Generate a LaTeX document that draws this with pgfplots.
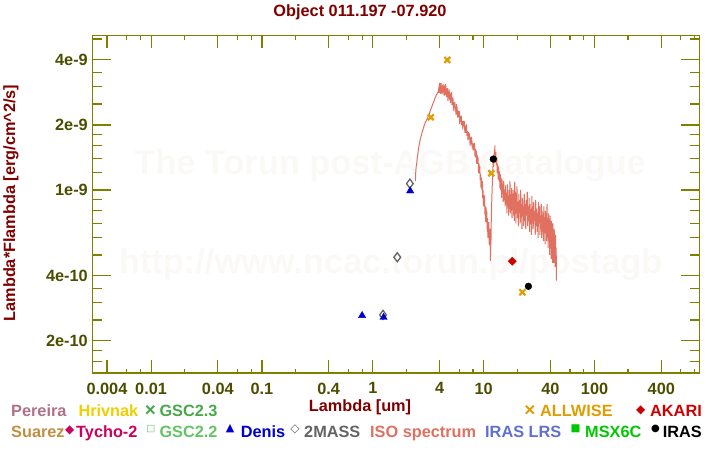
\documentclass[border=0pt]{standalone}
\usepackage{pgfplots}
\pgfplotsset{compat=1.18}
\usepackage{fontspec}
\setmainfont{Liberation Sans}
\newfontfamily\symfont{DejaVu Sans}
\definecolor{axc}{RGB}{128,128,0}
\definecolor{tlc}{RGB}{77,77,0}
\definecolor{ttl}{RGB}{128,0,0}
\definecolor{wm}{RGB}{250,249,246}
\definecolor{cPer}{RGB}{176,112,136}
\definecolor{cHri}{RGB}{236,208,0}
\definecolor{cGtt}{RGB}{72,168,72}
\definecolor{cSua}{RGB}{192,144,64}
\definecolor{cTyc}{RGB}{204,0,96}
\definecolor{cGtw}{RGB}{100,196,100}
\definecolor{cDen}{RGB}{0,0,204}
\definecolor{cMas}{RGB}{100,100,100}
\definecolor{cIso}{RGB}{224,112,96}
\definecolor{cLrs}{RGB}{96,112,208}
\definecolor{cMsx}{RGB}{0,200,0}
\definecolor{cAll}{RGB}{224,156,0}
\definecolor{cAka}{RGB}{208,0,0}
\newcommand\F{\fontsize{16.3bp}{19bp}\selectfont\bfseries}
\newcommand\Sy[1]{\fontsize{#1}{#1}\symfont}
\begin{document}
\begin{tikzpicture}
\path[use as bounding box] (0bp,0bp) rectangle (720bp,450bp);
% watermark
\node[anchor=base,inner sep=0,text=wm,font=\fontsize{34.4bp}{40bp}\selectfont\bfseries] at (390bp,275bp) {The Torun post-AGB Catalogue};
\node[anchor=base,inner sep=0,text=wm,font=\fontsize{34.4bp}{40bp}\selectfont\bfseries] at (390.7bp,176.5bp) {http://www.ncac.torun.pl/postagb};
% x ticks axis
\begin{axis}[at={(92.3bp,77bp)},anchor=south west,scale only axis,
  width=607bp,height=337.5bp,
  xmode=log,ymode=log,xmin=0.00295,xmax=880,ymin=1.42e-10,ymax=5.19e-9,
  axis line style={draw=none},
  ytick=\empty,
  xtick={0.004,0.01,0.04,0.1,0.4,1,4,10,40,100,400},
  xticklabels={0.004,0.01,0.04,0.1,0.4,1,4,10,40,100,400},
  minor xtick={0.006,0.008,0.02,0.06,0.08,0.2,0.6,0.8,2,6,8,20,60,80,200,600,800},
  tick align=inside,xtick pos=both,
  major tick length=12.7bp,minor tick length=4.3bp,
  every tick/.style={draw=axc,line width=1.1bp},
  xticklabel style={font=\F,text=tlc,anchor=north,inner sep=0pt,yshift=-9.5bp},
]
\end{axis}
% main axis
\begin{axis}[at={(92.3bp,77bp)},anchor=south west,scale only axis,
  width=607bp,height=337.5bp,
  xmode=log,ymode=log,xmin=0.00295,xmax=880,ymin=1.42e-10,ymax=5.19e-9,
  axis line style={draw=axc,line width=1.3bp},
  xtick=\empty,
  ytick={2e-10,4e-10,1e-9,2e-9,4e-9},
  yticklabels={2e-10,4e-10,1e-9,2e-9,4e-9},
  minor ytick={1.6e-10,1.8e-10,2.5e-10,3e-10,3.5e-10,5e-10,6e-10,7e-10,8e-10,9e-10,1.2e-9,1.4e-9,1.6e-9,1.8e-9,2.5e-9,3e-9,3.5e-9,5e-9},
  tick align=inside,ytick pos=both,
  major tick length=18.5bp,minor tick length=9.3bp,
  every tick/.style={draw=axc,line width=1.1bp},
  yticklabel style={font=\F,text=tlc,anchor=east,inner sep=0pt,xshift=-4.3bp},
]
% ISO spectrum
\addplot[color=cIso,line width=1bp,mark=none] table {
x y
2.42 1.10e-9
2.44 1.22e-9
2.46 1.28e-9
2.49 1.33e-9
2.52 1.42e-9
2.55 1.47e-9
2.58 1.55e-9
2.61 1.60e-9
2.64 1.66e-9
2.67 1.70e-9
2.71 1.76e-9
2.75 1.80e-9
2.79 1.86e-9
2.83 1.90e-9
2.87 1.95e-9
2.92 2.00e-9
2.97 2.05e-9
3.02 2.08e-9
3.07 2.12e-9
3.12 2.16e-9
3.17 2.20e-9
3.22 2.24e-9
3.27 2.30e-9
3.33 2.36e-9
3.39 2.42e-9
3.45 2.47e-9
3.51 2.54e-9
3.57 2.58e-9
3.63 2.66e-9
3.69 2.70e-9
3.75 2.76e-9
3.82 2.80e-9
3.88 2.84e-9
3.94 2.97e-9
3.97 2.82e-9
4.00 3.13e-9
4.03 2.82e-9
4.06 2.98e-9
4.09 2.79e-9
4.12 3.13e-9
4.15 2.95e-9
4.18 3.04e-9
4.21 2.77e-9
4.24 2.98e-9
4.27 2.89e-9
4.30 3.10e-9
4.33 2.82e-9
4.36 3.00e-9
4.39 2.72e-9
4.42 3.05e-9
4.45 2.89e-9
4.48 3.00e-9
4.51 2.76e-9
4.54 3.09e-9
4.57 2.79e-9
4.60 2.90e-9
4.63 2.69e-9
4.66 2.95e-9
4.69 2.77e-9
4.72 2.96e-9
4.76 2.58e-9
4.80 2.87e-9
4.84 2.69e-9
4.88 2.92e-9
4.92 2.62e-9
4.96 2.76e-9
5.00 2.53e-9
5.04 2.80e-9
5.08 2.60e-9
5.12 2.84e-9
5.16 2.48e-9
5.20 2.63e-9
5.24 2.48e-9
5.28 2.68e-9
5.33 2.33e-9
5.38 2.55e-9
5.43 2.41e-9
5.48 2.55e-9
5.53 2.31e-9
5.58 2.44e-9
5.63 2.22e-9
5.68 2.50e-9
5.73 2.25e-9
5.78 2.32e-9
5.84 2.16e-9
5.90 2.33e-9
5.96 2.18e-9
6.02 2.32e-9
6.08 2.02e-9
6.14 2.20e-9
6.20 2.06e-9
6.27 2.21e-9
6.34 1.99e-9
6.41 2.09e-9
6.48 1.91e-9
6.55 2.09e-9
6.62 1.97e-9
6.69 2.08e-9
6.76 1.84e-9
6.83 1.98e-9
6.90 1.84e-9
6.98 2.01e-9
7.06 1.78e-9
7.14 1.87e-9
7.22 1.70e-9
7.30 1.85e-9
7.38 1.72e-9
7.46 1.83e-9
7.54 1.60e-9
7.62 1.75e-9
7.70 1.63e-9
7.78 1.76e-9
7.86 1.57e-9
7.94 1.65e-9
8.02 1.52e-9
8.10 1.64e-9
8.18 1.53e-9
8.26 1.65e-9
8.34 1.43e-9
8.42 1.55e-9
8.50 1.41e-9
8.58 1.52e-9
8.66 1.32e-9
8.74 1.45e-9
8.82 1.32e-9
8.90 1.41e-9
8.98 1.20e-9
9.06 1.33e-9
9.14 1.19e-9
9.22 1.29e-9
9.30 1.11e-9
9.38 1.18e-9
9.46 1.02e-9
9.54 1.14e-9
9.62 1.00e-9
9.70 1.10e-9
9.78 0.92e-9
9.86 1.00e-9
9.94 0.84e-9
10.02 0.95e-9
10.10 0.84e-9
10.18 0.94e-9
10.26 0.77e-9
10.34 0.84e-9
10.42 0.71e-9
10.50 0.83e-9
10.58 0.71e-9
10.66 0.80e-9
10.74 0.65e-9
10.82 0.74e-9
10.90 0.60e-9
10.98 0.71e-9
11.06 0.61e-9
11.14 0.71e-9
11.22 0.56e-9
11.30 0.65e-9
11.38 0.55e-9
11.45 0.66e-9
11.50 0.47e-9
11.56 0.60e-9
11.62 0.56e-9
11.70 0.72e-9
11.8 0.86e-9
11.9 1.00e-9
12.0 1.12e-9
12.1 1.26e-9
12.2 1.36e-9
12.3 1.28e-9
12.4 1.48e-9
12.5 1.36e-9
12.6 1.61e-9
12.7 1.34e-9
12.85 1.50e-9
13.0 1.30e-9
13.12 1.42e-9
13.25 1.20e-9
13.38 1.31e-9
13.5 1.12e-9
13.62 1.28e-9
13.75 1.10e-9
13.88 1.22e-9
14.0 1.02e-9
14.12 1.18e-9
14.25 1.00e-9
14.38 1.14e-9
14.5 0.92e-9
14.62 1.12e-9
14.75 0.96e-9
14.88 1.06e-9
15.0 0.88e-9
15.15 1.10e-9
15.3 0.90e-9
15.45 1.00e-9
15.6 0.84e-9
15.75 1.05e-9
15.9 0.86e-9
16.05 0.96e-9
16.2 0.78e-9
16.35 1.06e-9
16.5 0.84e-9
16.65 0.94e-9
16.8 0.76e-9
16.95 1.00e-9
17.1 0.82e-9
17.25 1.10e-9
17.4 0.78e-9
17.55 0.92e-9
17.7 0.80e-9
17.85 1.02e-9
18.0 0.74e-9
18.15 0.96e-9
18.3 0.84e-9
18.45 1.00e-9
18.6 0.76e-9
18.75 0.90e-9
18.9 0.72e-9
19.05 1.09e-9
19.2 0.80e-9
19.35 0.98e-9
19.5 0.70e-9
19.65 0.94e-9
19.8 0.78e-9
19.95 1.04e-9
20.15 0.74e-9
20.35 0.88e-9
20.55 0.68e-9
20.75 0.96e-9
20.95 0.78e-9
21.15 0.90e-9
21.35 0.70e-9
21.55 1.00e-9
21.75 0.74e-9
21.95 0.86e-9
22.15 0.66e-9
22.35 0.92e-9
22.55 0.76e-9
22.75 0.84e-9
22.95 0.68e-9
23.2 0.96e-9
23.45 0.72e-9
23.7 0.86e-9
23.95 0.66e-9
24.2 0.90e-9
24.45 0.76e-9
24.7 0.98e-9
24.95 0.68e-9
25.2 0.84e-9
25.45 0.72e-9
25.7 0.92e-9
25.95 0.64e-9
26.2 0.86e-9
26.45 0.74e-9
26.7 0.80e-9
26.95 0.62e-9
27.2 0.94e-9
27.45 0.70e-9
27.7 0.84e-9
27.95 0.66e-9
28.25 0.88e-9
28.55 0.72e-9
28.85 0.80e-9
29.15 0.62e-9
29.45 0.90e-9
29.75 0.68e-9
30.05 0.82e-9
30.35 0.64e-9
30.65 0.78e-9
30.95 0.60e-9
31.25 0.88e-9
31.55 0.70e-9
31.85 0.84e-9
32.15 0.62e-9
32.45 0.76e-9
32.75 0.66e-9
33.05 0.86e-9
33.35 0.60e-9
33.65 0.80e-9
33.95 0.68e-9
34.25 0.76e-9
34.55 0.58e-9
34.85 0.84e-9
35.15 0.64e-9
35.45 0.74e-9
35.75 0.56e-9
36.05 0.80e-9
36.35 0.66e-9
36.65 0.74e-9
36.95 0.58e-9
37.25 0.86e-9
37.55 0.60e-9
37.85 0.72e-9
38.15 0.54e-9
38.45 0.78e-9
38.75 0.60e-9
39.05 0.70e-9
39.35 0.50e-9
39.65 0.76e-9
39.95 0.58e-9
40.25 0.66e-9
40.55 0.48e-9
40.85 0.72e-9
41.15 0.54e-9
41.45 0.64e-9
41.75 0.46e-9
42.05 0.70e-9
42.35 0.52e-9
42.65 0.60e-9
42.95 0.46e-9
43.25 0.66e-9
43.55 0.50e-9
43.85 0.58e-9
44.15 0.44e-9
44.45 0.62e-9
44.75 0.48e-9
45.05 0.54e-9
45.3 0.38e-9
};
% 2MASS
\addplot[only marks,mark=diamond,mark size=4.5bp,color=cMas,mark options={line width=1.3bp,fill=none}] coordinates {(1.235,2.64e-10) (1.662,4.88e-10) (2.159,1.07e-9)};
% Denis
\addplot[only marks,mark=triangle*,mark size=4.2bp,color=cDen] coordinates {(0.80,2.62e-10) (1.25,2.57e-10) (2.17,0.99e-9)};
% ALLWISE
\addplot[only marks,mark=x,mark size=4.2bp,color=cAll,mark options={line width=2.2bp}] coordinates {(3.33,2.17e-9) (4.70,4.0e-9) (11.7,1.195e-9) (22.3,3.36e-10)};
% AKARI
\addplot[only marks,mark=square*,mark size=2.9bp,color=cAka,mark options={rotate=45}] coordinates {(18.1,4.68e-10)};
% IRAS
\addplot[only marks,mark=*,mark size=3.4bp,color=black] coordinates {(12.2,1.39e-9) (25.3,3.58e-10)};
\end{axis}
% titles
\node[anchor=base,inner sep=0,text=ttl,font=\F] at (360bp,433bp) {Object 011.197 -07.920};
\node[anchor=base,inner sep=0,text=ttl,font=\F] at (360bp,38.8bp) {Lambda [um]};
\node[anchor=base,rotate=90,inner sep=0,text=ttl,font=\F] at (15bp,247bp) {Lambda*Flambda [erg/cm\textasciicircum 2/s]};
% legend row 1
\node[anchor=base west,inner sep=0,text=cPer,font=\F] at (11bp,33.3bp) {Pereira};
\node[anchor=base west,inner sep=0,text=cHri,font=\F] at (78.3bp,33.3bp) {Hrivnak};
\node[inner sep=0,text=cGtt,font=\fontsize{19bp}{19bp}\selectfont\bfseries] at (150.3bp,39.5bp) {×};
\node[anchor=base west,inner sep=0,text=cGtt,font=\F] at (159.3bp,33.3bp) {GSC2.3};
\node[inner sep=0,text=cAll,font=\fontsize{19bp}{19bp}\selectfont\bfseries] at (530bp,39.5bp) {×};
\node[anchor=base west,inner sep=0,text=cAll,font=\F] at (540bp,33.3bp) {ALLWISE};
\node[inner sep=0,text=cAka,font=\Sy{12bp}] at (640.8bp,39.5bp) {◆};
\node[anchor=base west,inner sep=0,text=cAka,font=\F] at (650bp,33.3bp) {AKARI};
% legend row 2
\node[anchor=base west,inner sep=0,text=cSua,font=\F] at (11bp,12.3bp) {Suarez};
\node[inner sep=0,text=cTyc,font=\Sy{12bp}] at (69.7bp,20bp) {◆};
\node[anchor=base west,inner sep=0,text=cTyc,font=\F] at (76bp,12.3bp) {Tycho-2};
\node[inner sep=0,text=cGtw,font=\Sy{9.5bp}\bfseries] at (150.8bp,21bp) {□};
\node[anchor=base west,inner sep=0,text=cGtw,font=\F] at (159.3bp,12.3bp) {GSC2.2};
\node[inner sep=0,text=cDen,font=\Sy{11bp}] at (230bp,21bp) {▲};
\node[anchor=base west,inner sep=0,text=cDen,font=\F] at (240.7bp,12.3bp) {Denis};
\node[inner sep=0,text=cMas,font=\Sy{12bp}\bfseries] at (295bp,21bp) {◇};
\node[anchor=base west,inner sep=0,text=cMas,font=\F] at (304bp,12.3bp) {2MASS};
\node[anchor=base west,inner sep=0,text=cIso,font=\F] at (370bp,12.3bp) {ISO spectrum};
\node[anchor=base west,inner sep=0,text=cLrs,font=\F] at (485bp,12.3bp) {IRAS LRS};
\node[inner sep=0,text=cMsx,font=\Sy{10.5bp}] at (575.5bp,21.5bp) {■};
\node[anchor=base west,inner sep=0,text=cMsx,font=\F] at (585bp,12.3bp) {MSX6C};
\node[inner sep=0,text=black,font=\Sy{10bp}] at (655.5bp,21bp) {●};
\node[anchor=base west,inner sep=0,text=black,font=\F] at (662.7bp,12.3bp) {IRAS};
\end{tikzpicture}
\end{document}
